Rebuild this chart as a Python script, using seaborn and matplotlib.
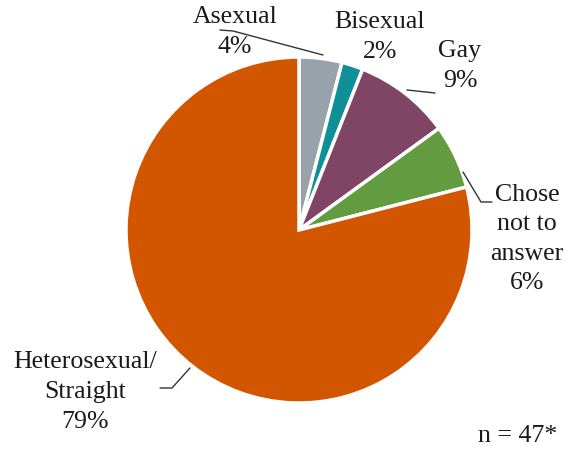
import matplotlib
matplotlib.use("Agg")
import matplotlib.pyplot as plt
import seaborn as sns

sns.set_theme(style="white")
plt.rcParams["font.family"] = ["Liberation Serif", "DejaVu Serif"]

categories = ["Asexual", "Bisexual", "Gay", "Chose not to answer", "Heterosexual/Straight"]
percents = [4, 2, 9, 6, 79]
label_texts = ["Asexual\n4%", "Bisexual\n2%", "Gay\n9%", "Chose\nnot to\nanswer\n6%",
               "Heterosexual/\nStraight\n79%"]
colors = ["#98A2AA", "#0F8F96", "#804465", "#629B40", "#D25500"]
sample_note = "n = 47*"

W, H = 575, 451
fig = plt.figure(figsize=(W / 100, H / 100), dpi=100)
ax = fig.add_axes([0, 0, 1, 1])

cx, cy, r = 299, H - 230, 173
ax.pie(percents, colors=colors, startangle=90, counterclock=False,
       center=(cx, cy), radius=r, frame=True,
       wedgeprops=dict(edgecolor="white", linewidth=2.5))
ax.set_xlim(0, W)
ax.set_ylim(0, H)
ax.set_aspect("equal")
ax.axis("off")

fs = 18.6
def y(v):
    return H - v

text_pos = [(235, 32), (380, 37), (460, 66), (527, 239), (85, 392)]
for (tx, ty), txt in zip(text_pos, label_texts):
    ax.text(tx, y(ty), txt, ha="center", va="center", fontsize=fs,
            color="#1a1a1a", linespacing=1.45)

# leader lines
leaders = [
    [(220, 30), (233, 31), (323, 55)],
    [(407, 90), (435, 93)],
    [(463, 172), (481, 202), (492, 202)],
    [(160, 388), (172, 388), (190, 368)],
]
for pts in leaders:
    xs = [p[0] for p in pts]
    ys = [y(p[1]) for p in pts]
    ax.plot(xs, ys, color="#333333", linewidth=1)

ax.text(518, y(436), sample_note, ha="center", va="center", fontsize=fs, color="#1a1a1a")

fig.savefig("out.png", dpi=100, facecolor="white")
